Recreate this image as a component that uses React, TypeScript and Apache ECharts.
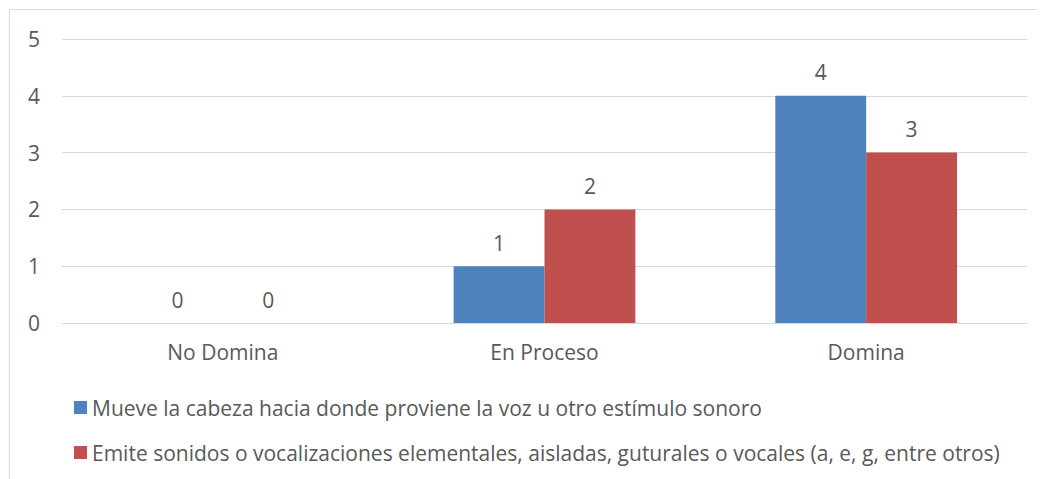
import React, { useEffect, useRef } from "react";
import * as echarts from "echarts";

const categories = ["No Domina", "En Proceso", "Domina"];
const seriesNames = [
  "Mueve la cabeza hacia donde proviene la voz u otro estímulo sonoro",
  "Emite sonidos o vocalizaciones elementales, aisladas, guturales o vocales (a, e, g, entre otros)",
];
const serieA = [0, 1, 4];
const serieB = [0, 2, 3];
const yTicks = { min: 0, max: 5, interval: 1 };

const FONT = "'Open Sans', sans-serif";
const TEXT = "#595959";
const FS = 21;

export default function App() {
  const ref = useRef<HTMLDivElement>(null);
  useEffect(() => {
    if (!ref.current) return;
    const chart = echarts.init(ref.current, null, { renderer: "svg" });
    const label = {
      show: true,
      position: "top",
      distance: 13,
      color: TEXT,
      fontSize: FS,
      fontFamily: FONT,
    };
    chart.setOption({
      animation: false,
      backgroundColor: "#ffffff",
      textStyle: { fontFamily: FONT, color: TEXT },
      graphic: [
        {
          type: "rect",
          shape: { x: 1.5, y: 1.5, width: 3000, height: 3000 },
          style: { fill: "none", stroke: "#D9D9D9", lineWidth: 1 },
          silent: true,
        },
      ],
      grid: { left: 54, right: 17, top: 31, height: 284 },
      xAxis: {
        type: "category",
        data: categories,
        axisLine: { lineStyle: { color: "#D9D9D9" } },
        axisTick: { show: false },
        axisLabel: { color: TEXT, fontSize: FS, fontFamily: FONT, margin: 18 },
      },
      yAxis: {
        type: "value",
        min: yTicks.min,
        max: yTicks.max,
        interval: yTicks.interval,
        axisLine: { show: false },
        axisTick: { show: false },
        splitLine: { lineStyle: { color: "#D9D9D9" } },
        axisLabel: { color: TEXT, fontSize: FS, fontFamily: FONT, margin: 22 },
      },
      legend: {
        orient: "vertical",
        left: 61,
        top: 384,
        itemWidth: 13,
        itemHeight: 13,
        itemGap: 24,
        icon: "rect",
        textStyle: { color: TEXT, fontSize: FS, fontFamily: FONT },
        data: seriesNames,
      },
      series: [
        {
          name: seriesNames[0],
          type: "bar",
          data: serieA,
          itemStyle: { color: "#4F81BD" },
          barGap: "0%",
          barCategoryGap: "43.5%",
          label,
        },
        {
          name: seriesNames[1],
          type: "bar",
          data: serieB,
          itemStyle: { color: "#C0504D" },
          barGap: "0%",
          barCategoryGap: "43.5%",
          label,
        },
      ],
    });
    return () => chart.dispose();
  }, []);
  return <div ref={ref} style={{ width: 1036, height: 471 }} />;
}
